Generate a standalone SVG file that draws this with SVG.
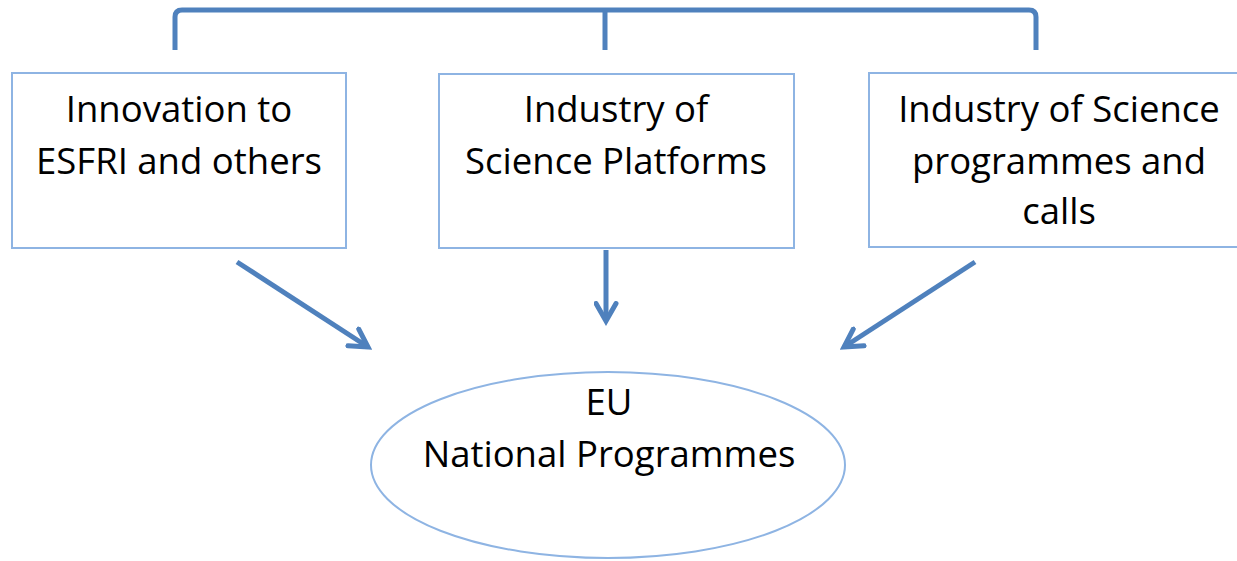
<svg xmlns="http://www.w3.org/2000/svg" width="1237" height="561" viewBox="0 0 1237 561">
<style>
.box{fill:#fff;stroke:#8eb4e3;stroke-width:2}
.t{font-family:"Open Sans","Liberation Sans",Arial,sans-serif;font-size:36.5px;fill:#000;text-anchor:middle}
.c{fill:none;stroke:#4f81bd;stroke-width:5;stroke-linecap:butt}
</style>
<defs>
<marker id="ah" viewBox="0 0 10 10" refX="8" refY="5" markerWidth="5" markerHeight="5" orient="auto" markerUnits="strokeWidth">
<path d="M1,1 L8,5 L1,9" fill="none" stroke="#4f81bd" stroke-width="2" stroke-linecap="round" stroke-linejoin="miter"/>
</marker>
</defs>
<g id="connectors">
<path class="c" d="M175,50 V17 Q175,10 182,10 H1029 Q1036,10 1036,17 V50"/>
<path class="c" d="M605,10 V50"/>
<path class="c" d="M237,262 L368,347" marker-end="url(#ah)"/>
<path class="c" d="M606,250 L606,321" marker-end="url(#ah)"/>
<path class="c" d="M975,262 L844,347" marker-end="url(#ah)"/>
</g>
<g id="node1">
<rect class="box" x="12" y="73" width="334" height="175"/>
<text class="t" x="179" y="122">Innovation to</text>
<text class="t" x="179" y="174">ESFRI and others</text>
</g>
<g id="node2">
<rect class="box" x="439" y="74" width="355" height="174"/>
<text class="t" x="616" y="122">Industry of</text>
<text class="t" x="616" y="174">Science Platforms</text>
</g>
<g id="node3">
<rect class="box" x="869" y="73" width="380" height="174"/>
<text class="t" x="1059" y="122">Industry of Science</text>
<text class="t" x="1059" y="174">programmes and</text>
<text class="t" x="1059" y="224">calls</text>
</g>
<g id="node4">
<ellipse cx="608" cy="465" rx="237" ry="93" fill="#fff" stroke="#8eb4e3" stroke-width="2"/>
<text class="t" x="609" y="415">EU</text>
<text class="t" x="609" y="467">National Programmes</text>
</g>
</svg>
